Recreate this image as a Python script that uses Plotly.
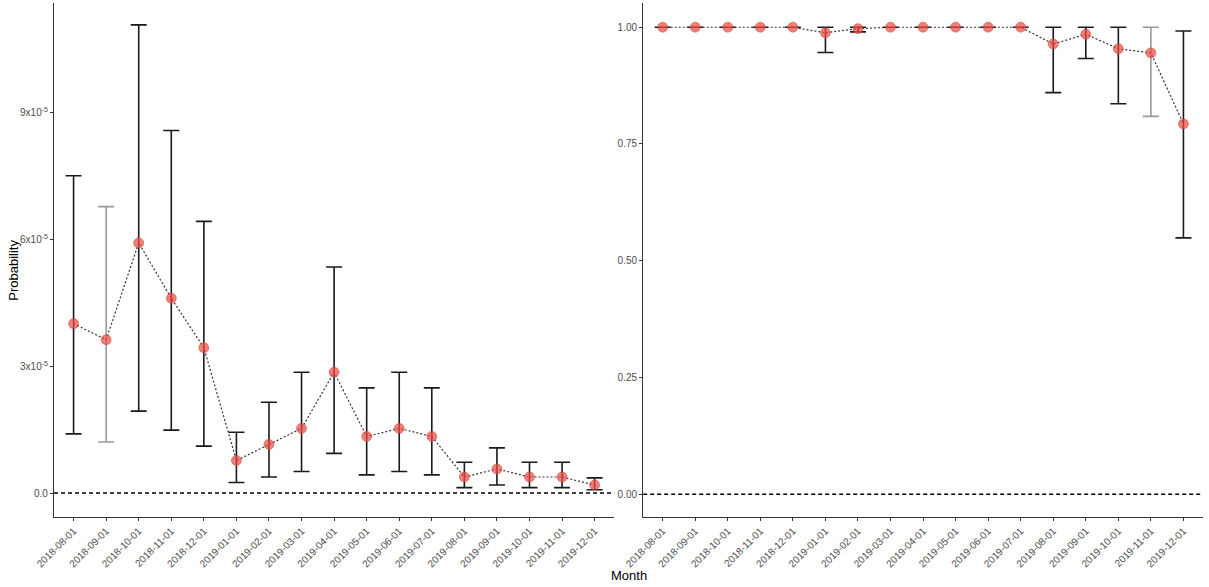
import plotly.graph_objects as go

# months shown on both panels
months = ["2018-08-01", "2018-09-01", "2018-10-01", "2018-11-01", "2018-12-01",
          "2019-01-01", "2019-02-01", "2019-03-01", "2019-04-01", "2019-05-01",
          "2019-06-01", "2019-07-01", "2019-08-01", "2019-09-01", "2019-10-01",
          "2019-11-01", "2019-12-01"]

# left panel: estimate, lower and upper bound
left_p = [4.01e-5, 3.63e-5, 5.92e-5, 4.61e-5, 3.44e-5, 7.7e-6, 1.15e-5, 1.53e-5, 2.86e-5,
          1.34e-5, 1.53e-5, 1.34e-5, 3.8e-6, 5.7e-6, 3.8e-6, 3.8e-6, 1.9e-6]
left_lo = [1.40e-5, 1.21e-5, 1.94e-5, 1.49e-5, 1.11e-5, 2.5e-6, 3.8e-6, 5.1e-6, 9.4e-6,
           4.3e-6, 5.1e-6, 4.3e-6, 1.3e-6, 1.9e-6, 1.3e-6, 1.3e-6, 0.8e-6]
left_hi = [7.51e-5, 6.78e-5, 1.108e-4, 8.58e-5, 6.43e-5, 1.44e-5, 2.15e-5, 2.86e-5, 5.35e-5,
           2.49e-5, 2.86e-5, 2.49e-5, 7.3e-6, 1.07e-5, 7.3e-6, 7.3e-6, 3.6e-6]

# right panel
right_p = [1.0, 1.0, 1.0, 1.0, 1.0, 0.988, 0.997, 1.0, 1.0, 1.0, 1.0, 1.0,
           0.964, 0.985, 0.954, 0.945, 0.793]
right_lo = [1.0, 1.0, 1.0, 1.0, 1.0, 0.946, 0.99, 1.0, 1.0, 1.0, 1.0, 1.0,
            0.860, 0.933, 0.836, 0.809, 0.549]
right_hi = [1.0, 1.0, 1.0, 1.0, 1.0, 1.0, 1.0, 1.0, 1.0, 1.0, 1.0, 1.0,
            1.0, 1.0, 1.0, 1.0, 0.992]

left_ticks = [0, 3e-5, 6e-5, 9e-5]
left_ticktext = ["0.0", "3x10<sup>-5</sup>", "6x10<sup>-5</sup>", "9x10<sup>-5</sup>"]
right_ticks = [0, 0.25, 0.5, 0.75, 1.0]
right_ticktext = ["0.00", "0.25", "0.50", "0.75", "1.00"]

marker_col = "rgba(236,78,68,0.72)"
font = "Liberation Sans, Arial, sans-serif"

fig = go.Figure()


def add_panel(p, lo, hi, xa, ya, gray_idx):
    plus = [h - v for h, v in zip(hi, p)]
    minus = [v - l for v, l in zip(p, lo)]
    # error bars drawn one by one so a few can be lighter grey
    for i, m in enumerate(months):
        fig.add_trace(go.Scatter(
            x=[m], y=[p[i]], mode="markers", xaxis=xa, yaxis=ya,
            marker=dict(size=1, color="rgba(0,0,0,0)"),
            error_y=dict(type="data", array=[plus[i]], arrayminus=[minus[i]],
                         color="#9a9a9a" if i in gray_idx else "#1a1a1a",
                         thickness=1.6, width=8),
            showlegend=False, hoverinfo="skip"))
    fig.add_trace(go.Scatter(
        x=months, y=p, mode="lines+markers", xaxis=xa, yaxis=ya,
        line=dict(color="#333333", width=1.2, dash="2px,2px"),
        marker=dict(size=10, color=marker_col, line=dict(width=0.6, color="rgba(200,60,55,0.8)")),
        showlegend=False))


add_panel(left_p, left_lo, left_hi, "x", "y", [1])
add_panel(right_p, right_lo, right_hi, "x2", "y2", [15])

# dashed zero reference lines
for xr, yr in (("x domain", "y"), ("x2 domain", "y2")):
    fig.add_shape(type="line", xref=xr, yref=yr, x0=0, x1=1, y0=0, y1=0,
                  line=dict(color="black", width=1.6, dash="4px,3px"))

ax_common = dict(showgrid=False, zeroline=False, showline=True, linecolor="#333333", linewidth=1.2,
                 ticks="outside", ticklen=3, tickcolor="#333333", automargin=False,
                 tickfont=dict(family=font, size=10, color="#4d4d4d"))

fig.update_layout(
    width=1209, height=587,
    margin=dict(l=0, r=0, t=0, b=0),
    plot_bgcolor="white", paper_bgcolor="white",
    font=dict(family=font),
    xaxis=dict(domain=[0.0447, 0.508], type="category", range=[-0.6, 16.6],
               tickangle=-45, anchor="y", **ax_common),
    yaxis=dict(domain=[0.119, 0.995], range=[-5.7e-6, 1.16e-4], tickvals=left_ticks,
               ticktext=left_ticktext, anchor="x", **ax_common),
    xaxis2=dict(domain=[0.532, 0.995], type="category", range=[-0.6, 16.6],
                tickangle=-45, anchor="y2", **ax_common),
    yaxis2=dict(domain=[0.119, 0.995], range=[-0.049, 1.052], tickvals=right_ticks,
                ticktext=right_ticktext, anchor="x2", **ax_common),
)

fig.add_annotation(text="Probability", xref="paper", yref="paper", x=0.0105, y=0.54,
                   xanchor="center", yanchor="middle",
                   textangle=-90, showarrow=False, font=dict(family=font, size=13, color="black"))
fig.add_annotation(text="Month", xref="paper", yref="paper", x=0.52, y=0.004,
                   xanchor="center", yanchor="bottom",
                   showarrow=False, font=dict(family=font, size=13, color="black"))

# drop the browser's default page margin so the figure fills the window
fig.write_html("out.html", config={"displayModeBar": False},
               post_script="document.body.style.margin='0px';")
